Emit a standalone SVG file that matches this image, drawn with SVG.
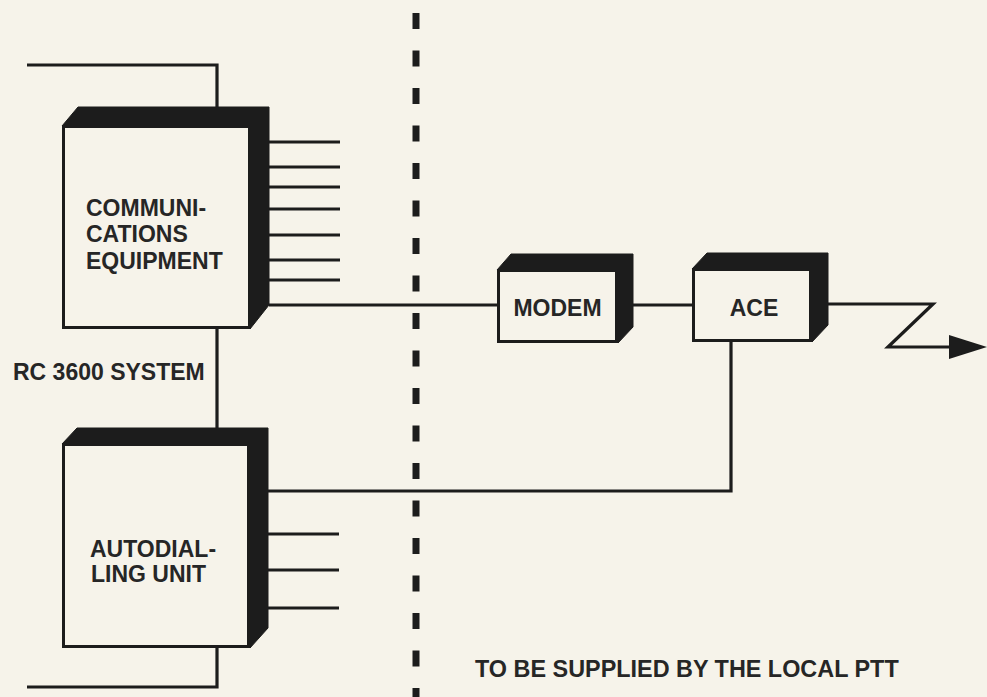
<svg xmlns="http://www.w3.org/2000/svg" width="987" height="697" viewBox="0 0 987 697">
<style>
.paper{fill:#f6f3ea}
.depth{fill:#1c1c1c;stroke:#1c1c1c;stroke-width:1;stroke-linejoin:round}
.face{fill:#f6f3ea;stroke:#1c1c1c;stroke-width:3}
.ln{fill:none;stroke:#1c1c1c;stroke-width:3.2;stroke-linejoin:miter}
.dash{fill:none;stroke:#1c1c1c;stroke-width:7;stroke-dasharray:16 21.5}
.t{font-family:"Liberation Sans",Arial,sans-serif;font-weight:bold;font-size:23px;fill:#262626}
</style>
<defs>
<marker id="arr" markerUnits="userSpaceOnUse" markerWidth="40" markerHeight="26" refX="1" refY="12" orient="auto">
<path d="M0,0 L38,12 L0,24 Z" fill="#1c1c1c"/>
</marker>
</defs>
<rect class="paper" x="0" y="0" width="987" height="697"/>

<g id="connectors">
<path class="ln" d="M27,65 H217 V108"/>
<path class="ln" d="M217,328 V429"/>
<path class="ln" d="M217,647 V687 H27"/>
<path class="ln" d="M269,142 H340 M269,167 H340 M269,187 H340 M269,209 H340 M269,235 H340 M269,260 H340 M269,280 H340"/>
<path class="ln" d="M269,305 H498"/>
<path class="ln" d="M633,305 H693"/>
<path class="ln" d="M828,304 H933 L888,347 H950" marker-end="url(#arr)"/>
<path class="ln" d="M731,341 V491 H268"/>
<path class="ln" d="M268,534 H339 M268,570 H339 M268,608 H339"/>
<path class="dash" d="M416,13 V697"/>
</g>

<g id="comm">
<polygon class="depth" points="62,126 78,107 269,107 269,305 250,329 250,126"/>
<rect class="face" x="63.5" y="126.5" width="186" height="201"/>
<text class="t" x="86" y="216">COMMUNI-</text>
<text class="t" x="86" y="242">CATIONS</text>
<text class="t" x="86" y="269">EQUIPMENT</text>
</g>

<g id="autodial">
<polygon class="depth" points="62,444 77,428 268,428 268,628 250,648 250,444"/>
<rect class="face" x="63.5" y="444.5" width="185" height="202"/>
<text class="t" x="90" y="557">AUTODIAL-</text>
<text class="t" x="91" y="582">LING UNIT</text>
</g>

<g id="modem">
<polygon class="depth" points="497,270 511,254 633,254 633,327 618,343 618,270"/>
<rect class="face" x="498.5" y="270.5" width="118" height="71"/>
<text class="t" x="557.5" y="316" text-anchor="middle">MODEM</text>
</g>

<g id="ace">
<polygon class="depth" points="692,269 707,253 828,253 828,325 812,342 812,269"/>
<rect class="face" x="693.5" y="269.5" width="117" height="71"/>
<text class="t" x="754" y="316" text-anchor="middle">ACE</text>
</g>

<g id="labels">
<text class="t" x="13" y="380">RC 3600 SYSTEM</text>
<text class="t" x="475" y="677" style="font-size:23.4px">TO BE SUPPLIED BY THE LOCAL PTT</text>
</g>
</svg>
